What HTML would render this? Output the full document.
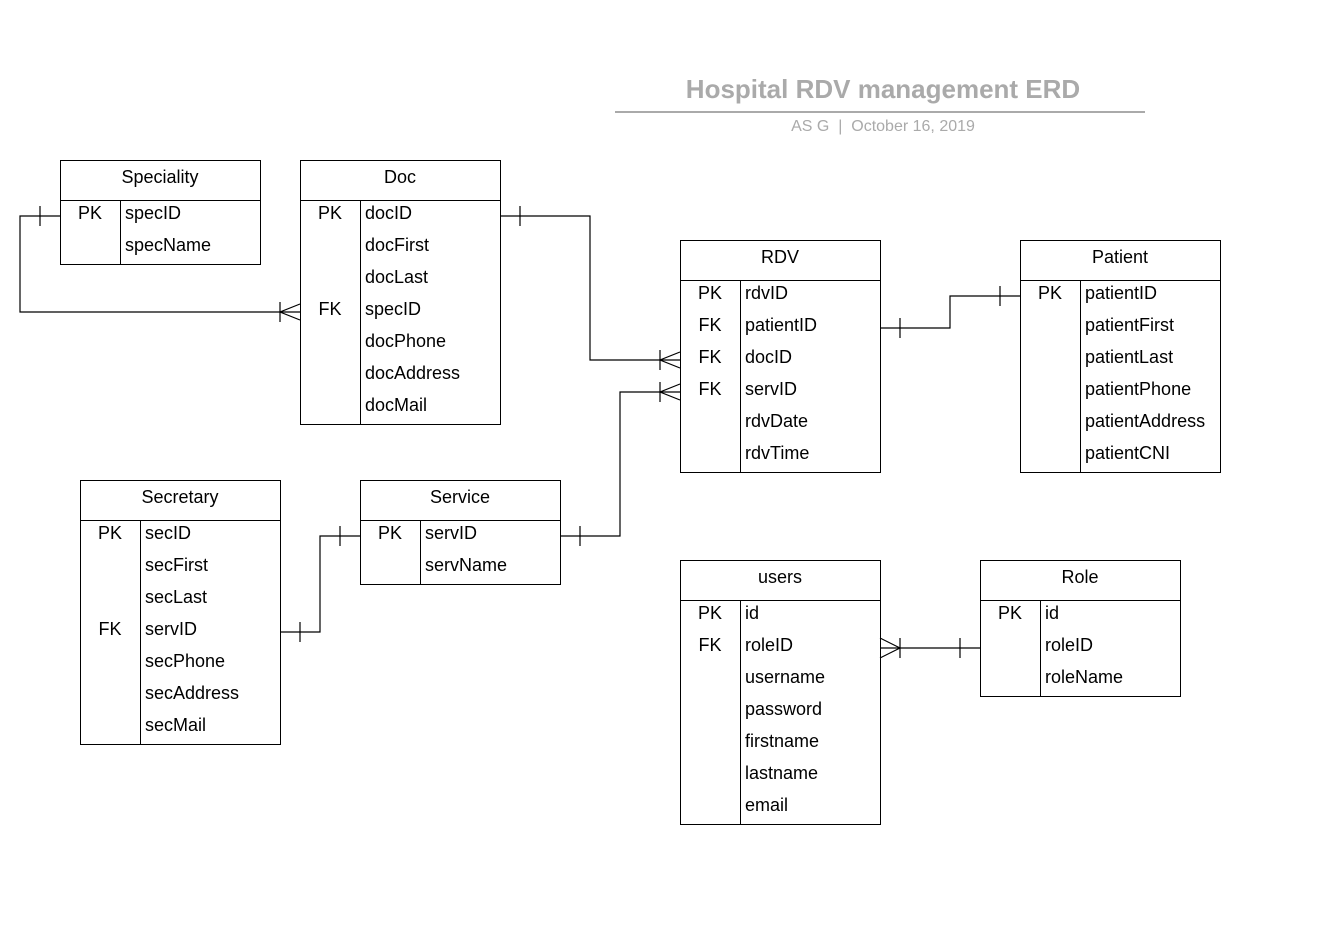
<!DOCTYPE html>
<html><head><meta charset="utf-8"><style>
body{margin:0;background:#fff}
svg text{font-family:"Liberation Sans",sans-serif}
</style></head><body>
<svg width="1335" height="939" xmlns="http://www.w3.org/2000/svg">
<rect width="1335" height="939" fill="#fff"/>
<text x="883" y="98" text-anchor="middle" font-size="26" font-weight="bold" fill="#aaaaaa">Hospital RDV management ERD</text>
<line x1="615" y1="112" x2="1145" y2="112" stroke="#aaaaaa" stroke-width="2"/>
<text x="883" y="131" text-anchor="middle" font-size="16" fill="#aaaaaa">AS G&#160; |&#160; October 16, 2019</text>
<g stroke="#000" stroke-width="1.2" fill="none">
<polyline points="60,216 20,216 20,312 300,312"/><line x1="40" y1="206" x2="40" y2="226"/><line x1="280" y1="302" x2="280" y2="322"/><polyline points="300,304 280,312 300,320"/>
<polyline points="500,216 590,216 590,360 680,360"/><line x1="520" y1="206" x2="520" y2="226"/><line x1="660" y1="350" x2="660" y2="370"/><polyline points="680,352 660,360 680,368"/>
<polyline points="560,536 620,536 620,392 680,392"/><line x1="580" y1="526" x2="580" y2="546"/><line x1="660" y1="382" x2="660" y2="402"/><polyline points="680,384 660,392 680,400"/>
<polyline points="880,328 950,328 950,296 1020,296"/><line x1="900" y1="318" x2="900" y2="338"/><line x1="1000" y1="286" x2="1000" y2="306"/>
<polyline points="280,632 320,632 320,536 360,536"/><line x1="300" y1="622" x2="300" y2="642"/><line x1="340" y1="526" x2="340" y2="546"/>
<polyline points="880,648 980,648"/><line x1="900" y1="638" x2="900" y2="658"/><line x1="960" y1="638" x2="960" y2="658"/><polyline points="880,638 900,648 880,658"/>
</g>
<g id="t"></g>
</svg>
<script>
const T=[["Speciality",60,160,[["PK","specID"],["","specName"]]],
["Doc",300,160,[["PK","docID"],["","docFirst"],["","docLast"],["FK","specID"],["","docPhone"],["","docAddress"],["","docMail"]]],
["RDV",680,240,[["PK","rdvID"],["FK","patientID"],["FK","docID"],["FK","servID"],["","rdvDate"],["","rdvTime"]]],
["Patient",1020,240,[["PK","patientID"],["","patientFirst"],["","patientLast"],["","patientPhone"],["","patientAddress"],["","patientCNI"]]],
["Secretary",80,480,[["PK","secID"],["","secFirst"],["","secLast"],["FK","servID"],["","secPhone"],["","secAddress"],["","secMail"]]],
["Service",360,480,[["PK","servID"],["","servName"]]],
["users",680,560,[["PK","id"],["FK","roleID"],["","username"],["","password"],["","firstname"],["","lastname"],["","email"]]],
["Role",980,560,[["PK","id"],["","roleID"],["","roleName"]]]];
let s="";
for(const [n,x,y,r] of T){const h=40+32*r.length;
s+=`<rect x="${x+.5}" y="${y+.5}" width="200" height="${h}" fill="none" stroke="#000"/>`;
s+=`<line x1="${x}" y1="${y+40.5}" x2="${x+200}" y2="${y+40.5}" stroke="#000"/>`;
s+=`<line x1="${x+60.5}" y1="${y+40}" x2="${x+60.5}" y2="${y+h}" stroke="#000"/>`;
s+=`<text x="${x+100}" y="${y+23}" text-anchor="middle" font-size="18">${n}</text>`;
r.forEach((q,i)=>{const b=y+59+32*i;
if(q[0])s+=`<text x="${x+30}" y="${b}" text-anchor="middle" font-size="18">${q[0]}</text>`;
s+=`<text x="${x+65}" y="${b}" font-size="18">${q[1]}</text>`;});}
document.getElementById("t").innerHTML=s;
</script>
</body></html>
